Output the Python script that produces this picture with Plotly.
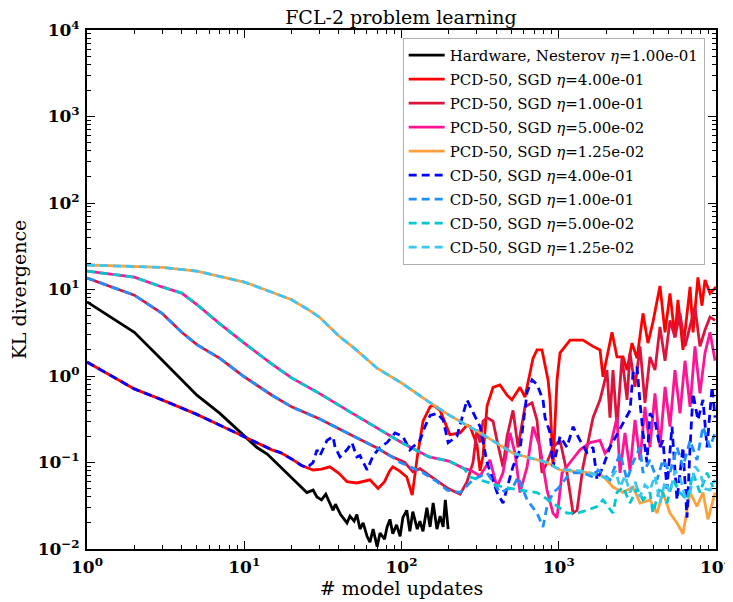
import plotly.graph_objects as go

# values (x = # model updates, y = KL divergence)
hw_x = [1, 2, 3, 4, 5, 7, 10, 12, 14, 16.9, 20.4, 23, 25, 27.4, 29, 31, 33, 36.7, 38, 41,
        45, 47, 50, 52, 54.5, 57, 60.4, 63, 66, 70, 73, 78, 81, 84.5, 88, 93, 98, 102, 108, 113,
        118, 126, 131, 137, 145, 152, 159, 168, 176, 184, 190, 198]
hw_y = [7.2, 3.2, 1.53, 0.9, 0.6, 0.37, 0.2, 0.15, 0.125, 0.089, 0.063, 0.052, 0.045, 0.048, 0.04, 0.037, 0.043, 0.028, 0.033, 0.025,
        0.02, 0.024, 0.021, 0.025, 0.017, 0.02, 0.014, 0.012, 0.017, 0.0106, 0.0153, 0.013, 0.018, 0.022, 0.015, 0.019, 0.014, 0.023, 0.028, 0.016,
        0.027, 0.017, 0.021, 0.016, 0.03, 0.018, 0.034, 0.017, 0.024, 0.018, 0.037, 0.017]

pcd4_x = [1, 2, 3, 4, 5, 7, 10, 12, 15, 17, 20, 23, 25, 27.4, 31, 35, 40, 45, 52, 57,
          63, 71, 78, 84, 88, 97, 108, 117, 126, 137, 145, 152, 159, 176, 203, 236, 261, 273, 302, 316,
          330, 350, 382, 423, 469, 504, 567, 610, 686, 727, 782, 855, 880, 919, 975, 1019, 1180, 1426, 1652, 1830,
          1911, 2181, 2346, 2563, 2718, 2924, 3146, 3434, 3692, 3972, 4403, 4742, 5097, 5484, 5728, 6166, 6839, 7145, 7674, 8147,
          8511, 9162, 10000]
pcd4_y = [1.45, 0.71, 0.53, 0.43, 0.36, 0.27, 0.2, 0.17, 0.14, 0.13, 0.11, 0.093, 0.087, 0.082, 0.084, 0.089, 0.075, 0.06, 0.058, 0.06,
          0.063, 0.05, 0.06, 0.08, 0.089, 0.08, 0.068, 0.042, 0.116, 0.3, 0.37, 0.44, 0.46, 0.4, 0.21, 0.22, 0.27, 0.26, 0.16, 0.08,
          0.12, 0.45, 0.74, 0.79, 0.6, 0.53, 0.74, 0.57, 1.6, 2.0, 2.0, 0.9, 0.53, 0.089, 0.9, 1.85, 2.6, 2.6, 2.2, 2.0,
          0.98, 3.2, 1.66, 1.66, 1.17, 2.4, 1.6, 5.3, 2.4, 4.2, 11, 3.2, 9, 2.8, 7.6, 2.0, 10.7, 3.2, 13.8, 6.5,
          12.9, 9, 10.7]

pcd1_x = [1, 2, 3, 4, 5, 7, 10, 15, 20, 30, 50, 70, 84.5, 98, 105, 118, 131, 152, 176, 198,
          236, 261, 285, 302, 316, 330, 350, 382, 405, 442, 469, 512, 551, 610, 676, 727, 782, 842, 919, 1019,
          1128, 1233, 1307, 1426, 1652, 1830, 1968, 2026, 2117, 2213, 2346, 2525, 2718, 2839, 3055, 3287, 3534, 3802, 4092, 4403,
          4742, 5097, 5484, 5902, 6351, 6839, 7350, 7907, 8511, 9162, 9863]
pcd1_y = [13.6, 8.6, 5.3, 3.2, 2.3, 1.6, 0.98, 0.6, 0.44, 0.32, 0.2, 0.147, 0.12, 0.107, 0.1, 0.078, 0.085, 0.07, 0.058, 0.05,
          0.043, 0.06, 0.1, 0.24, 0.17, 0.3, 0.33, 0.3, 0.18, 0.089, 0.2, 0.4, 0.15, 0.44, 0.49, 0.31, 0.076, 0.1, 0.15, 0.18,
          0.076, 0.026, 0.028, 0.089, 0.33, 0.53, 0.9, 1.17, 0.33, 1.17, 0.26, 1.66, 0.53, 1.85, 0.75, 2.2, 0.49, 1.66, 1.17, 3.7,
          1.5, 4.4, 2.8, 5.3, 2.2, 3.7, 6.3, 2.2, 3.4, 4.8, 4.4]

pcd05_x = [1, 2, 3, 4, 5, 7, 10, 15, 20, 30, 50, 70, 100, 150, 200, 250, 273, 316, 365, 405,
           442, 490, 527, 567, 629, 686, 760, 842, 919, 975, 1049, 1180, 1365, 1581, 1830, 1968, 2117, 2346, 2452, 2638,
           2839, 3055, 3287, 3534, 3802, 4092, 4403, 4742, 5097, 5484, 5902, 6351, 6839, 7350, 7907, 8511, 9162, 9863]
pcd05_y = [16.3, 13.9, 10.7, 9.1, 6.7, 4.0, 2.4, 1.37, 0.95, 0.63, 0.36, 0.25, 0.17, 0.116, 0.104, 0.085, 0.082, 0.07, 0.107, 0.052,
           0.076, 0.22, 0.128, 0.045, 0.089, 0.26, 0.15, 0.048, 0.026, 0.023, 0.076, 0.1, 0.14, 0.17, 0.18, 0.128, 0.15, 0.33, 0.076, 0.22,
           0.08, 0.31, 0.107, 0.44, 0.15, 0.63, 0.15, 0.75, 0.26, 1.17, 0.37, 1.5, 0.44, 2.2, 0.63, 1.85, 3.2, 1.5]

pcd0125_x = [1, 2, 3, 5, 7, 10, 15, 20, 25, 30, 40, 50, 70, 100, 150, 200, 316, 512, 842, 1019,
             1365, 1581, 1911, 2213, 2563, 2966, 3287, 3802, 4215, 4600, 5097, 5649, 6166, 6839, 7568, 8260, 8892, 9863]
pcd0125_y = [19.2, 18.3, 18.0, 16.3, 14.3, 12.2, 9.3, 7.6, 6.0, 4.8, 2.9, 2.1, 1.23, 0.83, 0.5, 0.355, 0.22, 0.128, 0.1, 0.082,
             0.078, 0.076, 0.07, 0.052, 0.045, 0.052, 0.034, 0.037, 0.026, 0.045, 0.026, 0.02, 0.015, 0.045, 0.031, 0.045, 0.022, 0.045]

cd4_x = [1, 2, 3, 4, 5, 7, 10, 12, 15, 17, 20, 23, 25, 27.4, 29, 30.3, 33.6, 36.7, 37.8, 40.6,
         45, 48.4, 52, 54.5, 60.4, 66, 73, 81, 91, 102, 113, 131, 141, 152, 168, 184, 198, 225, 261, 281,
         316, 350, 405, 442, 512, 567, 629, 676, 727, 794, 818, 880, 919, 1019, 1128, 1233, 1365, 1513, 1652, 1752,
         1911, 2117, 2452, 2839, 2966, 3146, 3287, 3434, 3639, 3802, 4092, 4403, 4600, 4879, 5248, 5649, 6166, 6540, 6839, 7145,
         7674, 8260, 8770, 9441, 9863]
cd4_y = [1.45, 0.71, 0.53, 0.43, 0.36, 0.27, 0.2, 0.17, 0.14, 0.13, 0.11, 0.093, 0.087, 0.1, 0.14, 0.12, 0.18, 0.2, 0.15, 0.116,
         0.14, 0.17, 0.116, 0.12, 0.082, 0.12, 0.15, 0.17, 0.22, 0.2, 0.14, 0.18, 0.26, 0.35, 0.37, 0.31, 0.17, 0.2, 0.53, 0.4,
         0.26, 0.1, 0.045, 0.034, 0.09, 0.14, 0.65, 0.9, 0.8, 0.53, 0.33, 0.22, 0.089, 0.2, 0.15, 0.26, 0.18, 0.13, 0.15, 0.063,
         0.089, 0.15, 0.25, 0.4, 1.07, 1.27, 0.49, 0.22, 0.1, 0.37, 0.3, 0.15, 0.18, 0.05, 0.26, 0.037, 0.15, 0.023, 0.15, 0.63,
         0.31, 0.53, 0.15, 0.75, 0.33]

cd1_x = [1, 2, 3, 4, 5, 7, 10, 15, 20, 30, 50, 70, 84.5, 98, 113, 137, 168, 195, 236, 285,
         350, 423, 512, 551, 629, 727, 794, 842, 919, 989, 1128, 1233, 1426, 1652, 1778, 2117, 2452, 2718, 2966, 3287,
         3434, 3802, 4215, 4600, 5097, 5649, 6166, 6839, 7568, 8260, 9162, 9863]
cd1_y = [13.6, 8.6, 5.3, 3.2, 2.3, 1.6, 0.98, 0.6, 0.44, 0.32, 0.2, 0.147, 0.12, 0.1, 0.09, 0.076, 0.06, 0.048, 0.045, 0.063,
         0.076, 0.045, 0.052, 0.068, 0.037, 0.026, 0.018, 0.031, 0.045, 0.05, 0.068, 0.076, 0.076, 0.068, 0.082, 0.063, 0.128, 0.063, 0.1, 0.15,
         0.076, 0.107, 0.063, 0.107, 0.076, 0.15, 0.089, 0.18, 0.107, 0.26, 0.15, 0.22]

cd05_x = [1, 2, 3, 4, 5, 7, 10, 15, 20, 30, 50, 70, 100, 150, 200, 250, 273, 365, 442, 567,
          727, 919, 1128, 1307, 1513, 1752, 1911, 2213, 2346, 2563, 2839, 3146, 3434, 3802, 3972, 4403, 4879, 5330, 5902, 6540,
          7145, 7907, 8770, 9573]
cd05_y = [16.3, 13.9, 10.7, 9.1, 6.7, 4.0, 2.4, 1.37, 0.95, 0.63, 0.36, 0.25, 0.17, 0.116, 0.104, 0.085, 0.068, 0.058, 0.052, 0.048,
          0.045, 0.034, 0.026, 0.026, 0.028, 0.031, 0.037, 0.026, 0.045, 0.052, 0.034, 0.05, 0.037, 0.045, 0.026, 0.052, 0.034, 0.063, 0.045, 0.037,
          0.076, 0.045, 0.076, 0.052]

cd0125_x = [1, 2, 3, 5, 7, 10, 15, 20, 25, 30, 40, 50, 70, 100, 150, 200, 316, 512, 842, 1019,
            1180, 1365, 1581, 1830, 2117, 2300, 2452, 2640, 2839, 3055, 3287, 3534, 3802, 4092, 4403, 4742, 5097, 5484, 5902, 6351,
            6839, 7350, 7907, 8511, 9162, 9863]
cd0125_y = [19.2, 18.3, 18.0, 16.3, 14.3, 12.2, 9.3, 7.6, 6.0, 4.8, 2.9, 2.1, 1.23, 0.83, 0.5, 0.355, 0.22, 0.128, 0.1, 0.082,
            0.082, 0.08, 0.076, 0.07, 0.063, 0.08, 0.052, 0.07, 0.045, 0.06, 0.04, 0.055, 0.048, 0.07, 0.034, 0.06, 0.045, 0.08, 0.068, 0.04,
            0.045, 0.09, 0.076, 0.05, 0.048, 0.063]

series = [
    ("Hardware, Nesterov <i>η</i>=1.00e-01", hw_x, hw_y, "black", "solid"),
    ("PCD-50, SGD <i>η</i>=4.00e-01", pcd4_x, pcd4_y, "#ff0000", "solid"),
    ("PCD-50, SGD <i>η</i>=1.00e-01", pcd1_x, pcd1_y, "#dc143c", "solid"),
    ("PCD-50, SGD <i>η</i>=5.00e-02", pcd05_x, pcd05_y, "#ff1493", "solid"),
    ("PCD-50, SGD <i>η</i>=1.25e-02", pcd0125_x, pcd0125_y, "#ffa03c", "solid"),
    ("CD-50, SGD <i>η</i>=4.00e-01", cd4_x, cd4_y, "#0000ff", "8px,5px"),
    ("CD-50, SGD <i>η</i>=1.00e-01", cd1_x, cd1_y, "#1e90ff", "8px,5px"),
    ("CD-50, SGD <i>η</i>=5.00e-02", cd05_x, cd05_y, "#00c8d0", "8px,5px"),
    ("CD-50, SGD <i>η</i>=1.25e-02", cd0125_x, cd0125_y, "#3cc6f4", "8px,5px"),
]

fig = go.Figure()
for i, (name, xs, ys, color, dash) in enumerate(series):
    # one legend group per trace so that tracegroupgap spaces the rows out
    fig.add_trace(go.Scatter(x=xs, y=ys, mode="lines", name=name, legendgroup=f"g{i}",
                             line=dict(color=color, width=2.8, dash=dash)))

serif = "DejaVu Serif"
x_major = [1, 10, 100, 1000, 10000]
x_text = ["10<sup>0</sup>", "10<sup>1</sup>", "10<sup>2</sup>", "10<sup>3</sup>", "10<sup>4</sup>"]
y_major = [0.01, 0.1, 1, 10, 100, 1000, 10000]
y_text = ["10<sup>−2</sup>", "10<sup>−1</sup>", "10<sup>0</sup>", "10<sup>1</sup>",
          "10<sup>2</sup>", "10<sup>3</sup>", "10<sup>4</sup>"]
x_minor = [m * d for d in x_major[:-1] for m in range(2, 10)]
y_minor = [m * d for d in y_major[:-1] for m in range(2, 10)]

axis_common = dict(
    type="log", showline=True, linecolor="black", linewidth=2, mirror="ticks",
    ticks="inside", ticklen=8, tickwidth=1.2, tickcolor="black", showgrid=False, zeroline=False,
    tickmode="array", tickfont=dict(family=serif, size=17, color="black", weight="bold"),
    title_font=dict(family=serif, size=19, color="black"), automargin=False,
    ticklabeloverflow="allow",
)

fig.update_xaxes(range=[0, 4], tickvals=x_major, ticktext=x_text, title_text="# model updates",
                 ticklabelstandoff=2, title_standoff=2,
                 minor=dict(tickmode="array", tickvals=x_minor, ticks="inside", ticklen=4,
                            tickcolor="black", tickwidth=1, showgrid=False),
                 **axis_common)
fig.update_yaxes(range=[-2, 4], tickvals=y_major, ticktext=y_text, title_text="KL divergence",
                 ticklabelstandoff=2, title_standoff=8,
                 minor=dict(tickmode="array", tickvals=y_minor, ticks="inside", ticklen=4,
                            tickcolor="black", tickwidth=1, showgrid=False),
                 **axis_common)

# the page body adds an 8px offset, so the figure is a bit smaller than the window
fig.update_layout(
    width=725, height=594,
    margin=dict(l=79, r=17, t=22, b=53, autoexpand=False),
    paper_bgcolor="white", plot_bgcolor="white",
    title=dict(text="FCL-2 problem learning", x=0.542, xanchor="center",
               yref="paper", y=1, yanchor="bottom", pad=dict(b=6),
               font=dict(family=serif, size=19, color="black")),
    legend=dict(x=0.982, y=0.985, xanchor="right", yanchor="top", itemwidth=36,
                bgcolor="white", bordercolor="#b0b0b0", borderwidth=1, tracegroupgap=1.5,
                font=dict(family=serif, size=15, color="black")),
    showlegend=True,
)

fig.write_html("out.html")
